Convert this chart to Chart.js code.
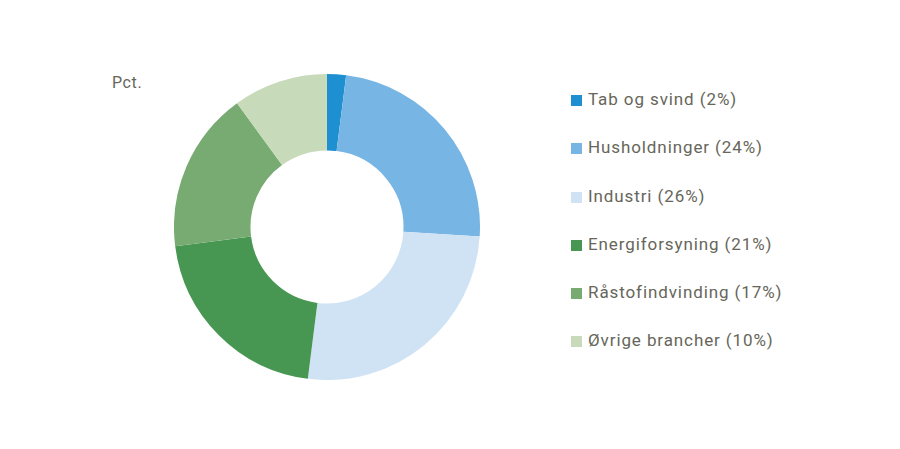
<!DOCTYPE html>
<html>
<head>
<meta charset="utf-8">
<script src="https://cdn.jsdelivr.net/npm/chart.js@4"></script>
<style>
  html, body { margin: 0; padding: 0; background: #fff; }
  body { width: 900px; height: 449px; position: relative; overflow: hidden; font-family: Roboto, sans-serif; color: #66665a; }
  #unit { position: absolute; left: 112px; top: 73px; font-size: 16px; letter-spacing: 0.6px; }
  #wrap { position: absolute; left: 174px; top: 74px; width: 306px; height: 306px; }
  #legend { position: absolute; left: 571px; top: 87px; margin: 0; padding: 0; list-style: none; font-size: 17px; letter-spacing: 0.9px; }
  #legend li { height: 48.3px; line-height: 24px; white-space: nowrap; }
  #legend span.box { display: inline-block; width: 11px; height: 11px; margin-right: 6px; vertical-align: -1px; }
</style>
</head>
<body>
<div id="unit">Pct.</div>
<div id="wrap"><canvas id="donut"></canvas></div>
<ul id="legend"></ul>
<script>
const categories = ["Tab og svind", "Husholdninger", "Industri", "Energiforsyning", "Råstofindvinding", "Øvrige brancher"]
const shares = [2, 24, 26, 21, 17, 10]
const colors = ["#1e90d2", "#77b5e4", "#d0e3f4", "#479752", "#77ab72", "#c7dab9"]

// legend as plain html, built from the same arrays
const legend = document.getElementById("legend")
categories.forEach((c, i) => {
    const li = document.createElement("li")
    const box = document.createElement("span")
    box.className = "box"
    box.style.background = colors[i]
    li.appendChild(box)
    li.appendChild(document.createTextNode(`${c} (${shares[i]}%)`))
    legend.appendChild(li)
})

let ctx = document.getElementById("donut").getContext("2d")
let chart = new Chart(ctx, {
    type: "doughnut",
    data: {
        labels: categories,
        datasets: [
            {
                data: shares,
                backgroundColor: colors,
                borderWidth: 0,
            }
        ],
    },
    options: {
        cutout: "50%",
        responsive: true,
        maintainAspectRatio: false,
        animation: false,
        layout: { padding: 0 },
        plugins: {
            legend: { display: false },
            tooltip: { enabled: false },
        }
    }
})
</script>
</body>
</html>
